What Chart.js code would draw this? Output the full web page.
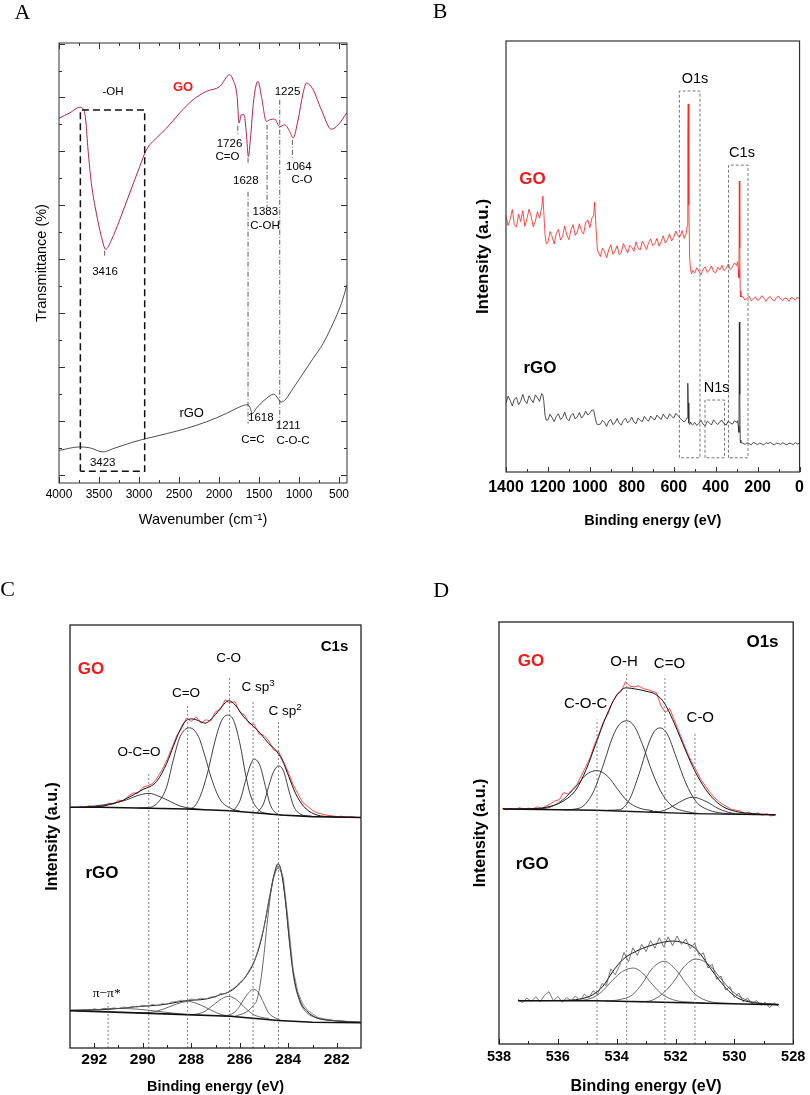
<!DOCTYPE html>
<html>
<head>
<meta charset="utf-8">
<script src="https://cdn.jsdelivr.net/npm/chart.js@4.4.1/dist/chart.umd.min.js"></script>
<style>
  body { margin: 0; background: #fff; }
  #fig { position: relative; width: 810px; height: 1095px; font-family: "Liberation Sans", Arial, sans-serif; color: #000; overflow: hidden; }
  canvas { position: absolute; }
  .t { position: absolute; transform: translate(-50%, -50%); white-space: nowrap; line-height: 1; }
  .L { font-family: "Liberation Serif", "Times New Roman", serif; font-size: 22px; }
  .a { font-size: 11.5px; }
  .b { font-weight: bold; font-size: 17px; }
  .red { color: #f01a1a; }
  .s { font-size: 13.5px; }
  .m { font-size: 15px; }
  .pk { font-size: 14.5px; }
  .pi { font-family: "Liberation Serif", "Times New Roman", serif; font-size: 13.5px; }
  sup { font-size: 0.72em; position: relative; top: -0.5em; vertical-align: baseline; }
</style>
</head>
<body>
<div id="fig">
  <canvas id="cA" width="405" height="545" style="left:0;top:0"></canvas>
  <canvas id="cB" width="405" height="545" style="left:405px;top:0"></canvas>
  <canvas id="cC" width="405" height="550" style="left:0;top:545px"></canvas>
  <canvas id="cD" width="405" height="550" style="left:405px;top:545px"></canvas>

  <!-- panel A -->
  <div class="t L" style="left:22.5px;top:12px">A</div>
  <div class="t a" style="left:113px;top:92px">-OH</div>
  <div class="t red" style="left:183px;top:86px;font-size:13px;font-weight:bold">GO</div>
  <div class="t a" style="left:287.5px;top:92px">1225</div>
  <div class="t a" style="left:229.5px;top:144.3px">1726</div>
  <div class="t a" style="left:227.5px;top:156.7px">C=O</div>
  <div class="t a" style="left:245.8px;top:181px">1628</div>
  <div class="t a" style="left:298.8px;top:166.7px">1064</div>
  <div class="t a" style="left:302px;top:180.3px">C-O</div>
  <div class="t a" style="left:265.3px;top:212.3px">1383</div>
  <div class="t a" style="left:265px;top:225.7px">C-OH</div>
  <div class="t a" style="left:105px;top:272px">3416</div>
  <div class="t" style="left:191.7px;top:411.7px;font-size:13px">rGO</div>
  <div class="t a" style="left:260.8px;top:418.3px">1618</div>
  <div class="t a" style="left:288.2px;top:425.7px">1211</div>
  <div class="t a" style="left:252.8px;top:440px">C=C</div>
  <div class="t a" style="left:293px;top:441px">C-O-C</div>
  <div class="t a" style="left:102.7px;top:463.3px">3423</div>

  <!-- panel B -->
  <div class="t L" style="left:440px;top:11px">B</div>
  <div class="t pk" style="left:695px;top:77.5px">O1s</div>
  <div class="t pk" style="left:742px;top:151.5px">C1s</div>
  <div class="t b red" style="left:532.5px;top:178px">GO</div>
  <div class="t b" style="left:540px;top:367px">rGO</div>
  <div class="t pk" style="left:716.7px;top:387px">N1s</div>

  <!-- panel C -->
  <div class="t L" style="left:7.5px;top:589px">C</div>
  <div class="t" style="left:334.5px;top:645px;font-weight:bold;font-size:15px">C1s</div>
  <div class="t b red" style="left:91px;top:667.5px">GO</div>
  <div class="t s" style="left:228.7px;top:657.7px">C-O</div>
  <div class="t s" style="left:186px;top:693px">C=O</div>
  <div class="t s" style="left:258px;top:687px">C sp<sup>3</sup></div>
  <div class="t s" style="left:285px;top:711px">C sp<sup>2</sup></div>
  <div class="t s" style="left:139px;top:751.5px">O-C=O</div>
  <div class="t b" style="left:102px;top:872px">rGO</div>
  <div class="t pi" style="left:106.7px;top:993px">π−π*</div>

  <!-- panel D -->
  <div class="t L" style="left:441.3px;top:590px">D</div>
  <div class="t b" style="left:762.5px;top:640.5px">O1s</div>
  <div class="t b red" style="left:531px;top:660px">GO</div>
  <div class="t m" style="left:624px;top:659.5px">O-H</div>
  <div class="t m" style="left:669.5px;top:662px">C=O</div>
  <div class="t m" style="left:585.7px;top:702px">C-O-C</div>
  <div class="t m" style="left:700.3px;top:716px">C-O</div>
  <div class="t b" style="left:532.2px;top:863px">rGO</div>
</div>

<script>
Chart.defaults.font.family = '"Liberation Sans", Arial, sans-serif'

// ---------- A: FTIR ----------
const aWaveGO = [4000, 3866, 3741, 3691, 3666, 3637, 3595, 3533, 3470, 3416, 3345, 3241, 3116, 2991, 2908, 2783, 2658, 2491, 2324, 2158, 1991, 1866, 1824, 1774, 1749, 1720, 1687, 1658, 1633, 1608, 1566, 1512, 1470, 1408, 1358, 1304, 1241, 1178, 1116, 1074, 1012, 949, 908, 824, 720, 595, 512, 400]
const aGO = [82.9, 84.1, 85.4, 84.8, 82.5, 75.7, 68.1, 61.3, 56.0, 53.1, 55.2, 59.8, 65.9, 71.9, 75.7, 78.4, 80.6, 84.1, 87.1, 89.0, 90.1, 92.8, 91.6, 87.9, 81.8, 83.7, 83.7, 79.5, 74.2, 78.0, 87.1, 91.3, 87.9, 82.2, 82.6, 82.7, 81.0, 81.4, 79.9, 78.4, 82.5, 88.6, 90.9, 89.4, 84.8, 80.4, 81.4, 84.2]
const aWaveRGO = [4000, 3741, 3616, 3450, 3324, 3074, 2908, 2658, 2408, 2158, 1908, 1741, 1645, 1616, 1583, 1533, 1408, 1316, 1262, 1229, 1178, 1074, 949, 824, 699, 574, 470, 400]
const aRGO = [7.4, 8.2, 8.0, 7.06, 7.8, 9.3, 10.1, 11.2, 12.4, 13.9, 15.8, 17.3, 17.8, 17.3, 15.8, 17.0, 19.2, 20.2, 19.2, 18.4, 18.8, 21.5, 24.9, 28.3, 31.7, 36.3, 40.8, 45.0]
const aBox = [3733, 2929, 2.66, 84.8]
const aMarks = [[3429, 52.8, 51.4], [1765, 81.2, 79.1], [1637, 73.9, 72.7], [1637, 66.2, 13.5], [1399, 81.4, 62.8], [1241, 87.1, 12.7], [1083, 78.0, 73.4]]

// ---------- B: XPS survey ----------
const bEnergy = [1400, 1390, 1380, 1370, 1360, 1350, 1340, 1330, 1320, 1310, 1300, 1290, 1280, 1270, 1260, 1250, 1240, 1230,
  1224, 1220, 1214, 1208,
  1200, 1190, 1180, 1170, 1160, 1150, 1140, 1130, 1120, 1110, 1100, 1090, 1080, 1070, 1060, 1050, 1040, 1030, 1020, 1010, 1000, 990,
  982, 977, 970, 964,
  950, 940, 930, 920, 910, 900, 890, 880, 870, 860, 850, 840, 830, 820, 810, 800, 790, 780, 770, 760, 750, 740, 730, 720, 710, 700, 690, 680, 670, 660, 650, 640, 630, 620, 610, 600, 590, 580,
  570, 560, 550, 540, 536, 533, 531, 528, 524, 520, 515, 510,
  500, 490, 480, 470, 460, 450, 440, 430, 420, 410, 400, 390, 380, 370, 360, 350, 340, 330, 320, 310, 300,
  296, 292, 289, 287, 285, 283, 280,
  270, 260, 250, 240, 230, 220, 210, 200, 190, 180, 170, 160, 150, 140, 130, 120, 110, 100, 90, 80, 70, 60, 50, 40, 30, 20, 10, 0]
const bGO = [59.5, 57.2, 58.6, 60.9, 57.4, 56.8, 59.9, 58.1, 60.6, 57.0, 58.8, 61.0, 59.3, 56.9, 58.2, 60.4, 58.9, 61.3,
  64.0, 60.5, 55.2, 53.0,
  53.2, 55.8, 54.6, 52.9, 55.4, 56.3, 53.8, 54.7, 57.1, 55.0, 53.9, 56.2, 57.4, 54.9, 55.7, 57.6, 56.0, 55.2, 57.9, 58.5, 56.7, 58.9,
  59.5, 62.6, 56.0, 51.5,
  50.0, 51.9, 51.1, 49.7, 51.6, 52.7, 50.5, 51.3, 52.5, 50.4, 51.0, 53.0, 51.9, 50.8, 52.6, 52.1, 51.2, 53.4, 52.0, 51.5, 53.5, 52.7, 51.6, 53.2, 54.1, 52.5, 53.0, 54.2, 52.4, 53.5, 54.8, 53.1, 53.9, 55.2, 53.6, 54.5, 55.9, 54.8,
  54.6, 56.0, 54.2, 55.5, 57.0, 78.0, 85.4, 62.0, 49.5, 47.2, 46.0, 46.8,
  46.2, 47.4, 46.6, 45.8, 47.1, 47.6, 46.3, 46.9, 47.8, 46.5, 46.2, 47.5, 46.9, 47.9, 46.7, 47.3, 48.2, 47.0, 47.6, 48.5, 47.9,
  48.8, 47.0, 45.0, 67.5, 52.0, 42.0, 40.6,
  40.7, 39.9, 40.3, 40.8, 39.7, 40.2, 40.6, 39.8, 40.1, 40.9, 40.3, 39.6, 40.4, 40.7, 40.0, 39.7, 40.5, 40.8, 40.1, 39.8, 40.4, 40.2, 39.6, 40.5, 40.3, 39.9, 40.6, 40.1]
const bRGO = [16.0, 17.6, 16.6, 15.3, 16.9, 17.3, 15.6, 16.4, 18.0, 16.5, 15.9, 17.7, 16.8, 16.1, 17.9, 17.2, 16.4, 18.2,
  17.8, 16.6, 13.2, 12.0,
  12.1, 13.4, 12.6, 11.7, 12.9, 13.5, 12.2, 12.6, 13.9, 12.4, 11.9, 13.1, 13.6, 12.3, 12.8, 13.8, 12.5, 13.1, 14.1, 13.2, 13.7, 14.4,
  14.3, 13.2, 11.6, 11.0,
  11.1, 12.0, 11.5, 10.6, 11.8, 12.2, 11.0, 11.4, 12.4, 11.3, 10.9, 12.0, 12.5, 11.4, 11.9, 12.7, 11.6, 11.2, 12.5, 12.0, 11.7, 12.9, 12.2, 11.8, 13.0, 12.4, 12.1, 13.2, 12.6, 12.2, 13.4, 12.7, 12.3, 13.5, 12.9, 12.5, 13.6, 13.1,
  12.5, 12.0, 11.6, 12.2, 12.6, 20.6, 16.0, 11.4, 11.0, 11.6, 11.1, 10.9,
  11.5, 10.8, 11.3, 12.0, 11.1, 10.7, 11.8, 11.4, 10.9, 12.1, 11.5, 11.0, 11.7, 12.0, 11.2, 10.9, 11.8, 11.4, 11.1, 11.9, 11.5,
  11.9, 10.6, 9.2, 34.8, 18.0, 7.4, 6.8,
  6.7, 6.4, 6.8, 6.6, 6.3, 6.9, 6.6, 6.4, 6.7, 6.5, 6.3, 6.8, 6.6, 6.9, 6.5, 6.3, 6.7, 6.6, 6.4, 6.8, 6.5, 6.3, 6.7, 6.6, 6.4, 6.8, 6.5, 6.7]
const bBoxes = [[573, 475, 3.3, 88.4], [339, 246, 3.3, 71.2], [451, 358, 3.3, 16.7]]

// ---------- C: C1s ----------
const cGoEnergy = [292.6, 292.4, 292.2, 292.0, 291.8, 291.6, 291.4, 291.2, 291.0, 290.8, 290.6, 290.4, 290.2, 290.0, 289.8, 289.6, 289.4, 289.2, 289.0, 288.8, 288.6, 288.4, 288.2, 288.0, 287.8, 287.6, 287.4, 287.2, 287.0, 286.8, 286.6, 286.4, 286.2, 286.0, 285.8, 285.6, 285.4, 285.2, 285.0, 284.8, 284.6, 284.4, 284.2, 284.0, 283.8, 283.6, 283.4, 283.2, 283.0, 282.8, 282.6, 282.4, 282.2, 282.0, 281.8, 281.6, 281.4, 281.2]
const cGoInt = [57.2, 56.8, 57.3, 56.9, 57.4, 57.1, 57.9, 57.7, 58.6, 58.4, 59.5, 60.3, 60.2, 61.6, 62.0, 62.5, 63.9, 65.8, 68.1, 70.9, 73.8, 75.5, 78.0, 77.2, 78.3, 76.8, 77.6, 77.3, 79.5, 80.0, 82.3, 81.6, 81.9, 79.4, 78.7, 76.6, 76.5, 74.2, 73.9, 72.6, 70.4, 70.1, 67.8, 65.2, 62.3, 60.1, 58.0, 57.1, 56.2, 55.6, 55.3, 55.0, 54.9, 54.7, 54.8, 54.6, 54.7, 54.5]
const cGoEnv = [[293, 56.9], [292, 57.0], [291.77, 57.1], [290.94, 58.26], [290.39, 59.84], [289.98, 61.17], [289.7, 61.8], [289.43, 63.0], [289.01, 67.3], [288.74, 71.3], [288.46, 75.2], [288.25, 77.2], [287.98, 77.8], [287.7, 77.4], [287.43, 76.8], [287.08, 78.3], [286.74, 80.7], [286.46, 82.1], [286.19, 81.1], [285.84, 78.3], [285.5, 76.4], [285.15, 74.4], [284.81, 72.0], [284.53, 70.5], [284.25, 68.1], [283.98, 64.2], [283.7, 60.2], [283.36, 57.1], [282.94, 55.35], [282.39, 54.7], [281, 54.5]]
const cGoBase = [[293, 56.9], [291.77, 56.9], [288.2, 56.5], [286.4, 56.1], [285.4, 55.6], [284.3, 55.1], [283, 54.7], [282.1, 54.6], [281, 54.5]]
const cGoOCO = [[292.5, 56.9], [291.36, 57.7], [290.67, 58.65], [290.25, 59.6], [289.74, 60.2], [289.29, 59.4], [288.87, 58.3], [288.46, 57.2], [288.05, 56.7], [287.5, 56.35]]
const cGoCdO = [[290.2, 56.75], [289.7, 56.9], [289.29, 58.6], [289.01, 61.8], [288.74, 68.1], [288.46, 73.6], [288.07, 75.7], [287.7, 73.6], [287.43, 68.9], [287.15, 63.4], [286.8, 58.65], [286.39, 56.7], [286.0, 56.0]]
const cGoCO = [[288.2, 56.5], [287.91, 56.9], [287.63, 59.5], [287.33, 65.0], [287.01, 72.8], [286.74, 77.5], [286.5, 78.7], [286.25, 77.4], [285.98, 71.6], [285.77, 65.0], [285.56, 59.8], [285.22, 56.3], [284.74, 55.3]]
const cGoSp3 = [[286.25, 56.1], [285.98, 58.65], [285.77, 63.0], [285.56, 66.9], [285.4, 68.3], [285.15, 66.5], [284.94, 61.8], [284.74, 57.5], [284.46, 55.4], [284.2, 55.05]]
const cGoSp2 = [[285.29, 55.55], [285.01, 57.9], [284.81, 61.8], [284.6, 65.4], [284.39, 66.7], [284.19, 65.4], [283.98, 61.0], [283.77, 57.1], [283.5, 55.3], [283.08, 54.75]]

const cRgoEnergy = [292.8, 292.6, 292.4, 292.2, 292.0, 291.8, 291.6, 291.4, 291.2, 291.0, 290.8, 290.6, 290.4, 290.2, 290.0, 289.8, 289.6, 289.4, 289.2, 289.0, 288.8, 288.6, 288.4, 288.2, 288.0, 287.8, 287.6, 287.4, 287.2, 287.0, 286.8, 286.6, 286.4, 286.2, 286.0, 285.8, 285.6, 285.4, 285.2, 285.0, 284.8, 284.6, 284.4, 284.2, 284.0, 283.8, 283.6, 283.4, 283.2, 283.0, 282.8, 282.6, 282.4, 282.2, 282.0, 281.8, 281.6, 281.4, 281.2]
const cRgoInt = [8.9, 8.6, 9.1, 8.8, 9.3, 9.0, 9.4, 9.2, 9.5, 9.3, 9.7, 9.5, 9.9, 9.7, 10.1, 9.9, 10.3, 10.0, 10.5, 10.3, 10.9, 11.0, 11.3, 11.1, 11.6, 11.4, 11.8, 11.5, 12.1, 12.0, 12.9, 12.8, 13.6, 14.3, 15.5, 16.5, 18.5, 20.4, 24.1, 28.5, 34.9, 40.3, 43.6, 40.2, 30.0, 18.6, 13.2, 10.4, 8.9, 8.1, 7.3, 7.0, 6.8, 6.6, 6.4, 6.5, 6.3, 6.3, 6.1]
const cRgoEnv = [[293, 8.95], [291.77, 9.05], [290.94, 9.37], [290.12, 9.84], [289.29, 10.16], [288.6, 10.8], [288.12, 11.26], [287.63, 11.4], [287.22, 11.8], [286.8, 12.6], [286.39, 13.4], [285.98, 15.35], [285.7, 17.3], [285.43, 20.1], [285.15, 24.8], [284.94, 30.3], [284.74, 36.6], [284.57, 41.3], [284.43, 43.54], [284.3, 42.1], [284.12, 35.0], [283.94, 24.8], [283.77, 16.9], [283.5, 11.0], [283.22, 8.66], [282.81, 7.09], [282.12, 6.46], [281, 6.1]]
const cRgoBase = [[293, 8.8], [291.77, 8.6], [288.2, 7.9], [286.4, 7.5], [284.4, 6.5], [283, 6.1], [281, 6.0]]
const cRgoPi = [[293, 8.8], [292.2, 9.0], [291.4, 9.25], [291.0, 9.35], [290.4, 9.25], [289.8, 8.95], [289.0, 8.4], [288.3, 7.95]]
const cRgoCdO = [[290.3, 8.3], [289.7, 8.4], [289.15, 9.2], [288.6, 10.4], [288.12, 11.0], [287.63, 10.2], [287.22, 9.05], [286.74, 7.87], [286.25, 7.5]]
const cRgoCO = [[287.91, 7.87], [287.49, 8.5], [287.08, 10.2], [286.74, 11.65], [286.46, 12.2], [286.19, 11.65], [285.84, 9.84], [285.49, 8.1], [285.15, 7.3], [284.8, 7.0]]
const cRgoSp3 = [[286.7, 7.6], [286.39, 7.9], [286.11, 9.05], [285.84, 11.4], [285.63, 13.1], [285.43, 13.9], [285.22, 13.0], [285.01, 10.6], [284.81, 8.3], [284.53, 7.1], [284.3, 6.55]]
const cRgoSp2 = [[286.2, 7.5], [285.7, 8.6], [285.45, 10.0], [285.29, 11.4], [285.15, 15.35], [285.01, 21.6], [284.87, 29.5], [284.74, 35.8], [284.6, 40.55], [284.42, 42.5], [284.25, 40.5], [284.11, 34.6], [283.94, 24.4], [283.77, 16.5], [283.5, 10.6], [283.22, 8.27], [282.81, 7.1], [282.12, 6.5], [281.5, 6.1]]
const cMarks = [[291.43, 10.7], [289.75, 65.3], [288.15, 80.9], [286.42, 87.8], [285.45, 82.3], [284.4, 77.6]]

// ---------- D: O1s ----------
const dGoEnergy = [537.90, 537.75, 537.60, 537.45, 537.30, 537.15, 537.00, 536.85, 536.70, 536.55, 536.40, 536.25, 536.10, 535.95, 535.80, 535.65, 535.50, 535.35, 535.20, 535.05, 534.90, 534.75, 534.60, 534.45, 534.30, 534.15, 534.00, 533.85, 533.70, 533.55, 533.40, 533.25, 533.10, 532.95, 532.80, 532.65, 532.50, 532.35, 532.20, 532.05, 531.90, 531.75, 531.60, 531.45, 531.30, 531.15, 531.00, 530.85, 530.70, 530.55, 530.40, 530.25, 530.10, 529.95, 529.80, 529.65, 529.50, 529.35, 529.20, 529.05, 528.90, 528.75, 528.60]
const dGoInt = [55.9, 55.5, 55.8, 55.6, 56.0, 55.6, 55.9, 55.7, 56.2, 55.8, 56.4, 56.9, 57.6, 57.9, 59.6, 59.2, 60.4, 61.5, 63.6, 65.7, 67.9, 71.0, 73.5, 76.4, 78.1, 80.9, 82.8, 83.5, 85.8, 84.8, 84.6, 84.9, 84.2, 84.0, 83.6, 83.3, 80.2, 78.6, 79.5, 76.9, 74.3, 71.6, 69.1, 66.8, 64.9, 62.8, 61.3, 59.8, 58.6, 57.6, 56.8, 56.2, 55.6, 55.4, 55.2, 54.6, 55.0, 54.3, 54.8, 54.2, 54.6, 54.0, 54.4]
const dGoEnv = [[537.86, 55.7], [536.96, 55.76], [536.4, 56.08], [535.83, 57.5], [535.38, 60.3], [535.04, 65.0], [534.7, 71.3], [534.36, 77.6], [534.02, 82.4], [533.68, 84.4], [533.34, 84.1], [533.0, 83.6], [532.66, 82.8], [532.38, 80.8], [532.1, 76.9], [531.76, 71.3], [531.42, 65.8], [531.08, 61.45], [530.74, 58.3], [530.4, 56.3], [529.95, 55.1], [529.39, 54.6], [528.6, 54.3]]
const dGoBase = [[537.86, 55.7], [534.7, 55.4], [531.42, 54.6], [528.6, 54.3]]
const dGoCOC = [[537.2, 55.65], [536.4, 55.9], [535.83, 57.9], [535.38, 61.05], [535.04, 63.8], [534.68, 64.8], [534.3, 63.4], [533.96, 60.3], [533.63, 57.5], [533.23, 55.9], [532.78, 55.3]]
const dGoOH = [[535.8, 55.5], [535.26, 55.9], [534.81, 59.5], [534.47, 65.8], [534.13, 72.9], [533.91, 75.7], [533.66, 76.6], [533.4, 75.3], [533.12, 70.9], [532.78, 64.2], [532.44, 59.1], [532.1, 56.3], [531.65, 55.1], [531.2, 54.6]]
const dGoCdO = [[534.3, 55.4], [533.91, 55.5], [533.57, 57.9], [533.23, 64.2], [532.95, 70.5], [532.72, 74.1], [532.52, 74.9], [532.27, 73.3], [531.99, 68.2], [531.65, 61.85], [531.31, 57.5], [530.86, 55.4], [530.4, 54.7], [530.0, 54.5]]
const dGoCO = [[532.9, 55.1], [532.55, 55.1], [532.21, 55.9], [531.87, 57.3], [531.42, 58.5], [530.97, 57.5], [530.52, 55.7], [530.07, 54.7], [529.62, 54.5], [529.2, 54.4]]

const dRgoEnergy = [537.35, 537.20, 537.05, 536.90, 536.75, 536.60, 536.45, 536.30, 536.15, 536.00, 535.85, 535.70, 535.55, 535.40, 535.25, 535.10, 534.95, 534.80, 534.65, 534.50, 534.35, 534.20, 534.05, 533.90, 533.75, 533.60, 533.45, 533.30, 533.15, 533.00, 532.85, 532.70, 532.55, 532.40, 532.25, 532.10, 531.95, 531.80, 531.65, 531.50, 531.35, 531.20, 531.05, 530.90, 530.75, 530.60, 530.45, 530.30, 530.15, 530.00, 529.85, 529.70, 529.55, 529.40, 529.25, 529.10, 528.95, 528.80, 528.65, 528.50]
const dRgoInt = [10.6, 9.8, 10.9, 10.1, 11.2, 10.0, 11.6, 12.4, 10.2, 11.3, 9.9, 11.0, 10.3, 11.4, 10.2, 11.8, 10.9, 12.6, 11.8, 14.3, 13.9, 17.8, 16.4, 18.6, 21.7, 19.5, 22.8, 21.0, 23.6, 21.9, 24.5, 22.7, 25.2, 23.0, 25.4, 23.3, 25.6, 23.6, 24.9, 22.6, 23.9, 21.0, 21.6, 18.0, 18.9, 15.3, 16.1, 12.8, 13.6, 11.0, 12.1, 10.0, 10.9, 9.5, 10.3, 9.2, 9.9, 8.6, 9.8, 8.9]
const dRgoEnv = [[537.35, 10.26], [535.83, 10.33], [535.26, 10.65], [534.81, 11.68], [534.47, 13.65], [534.13, 17.2], [533.8, 19.97], [533.46, 21.55], [533.0, 22.97], [532.55, 23.92], [532.1, 24.4], [531.76, 24.08], [531.42, 23.13], [531.14, 21.16], [530.86, 18.4], [530.52, 15.2], [530.18, 12.47], [529.84, 10.73], [529.39, 9.86], [528.48, 9.39]]
const dRgoBase = [[537.35, 10.26], [534.7, 10.26], [531.3, 9.7], [528.5, 9.3]]
const dRgoP1 = [[535.5, 10.3], [535.04, 10.5], [534.59, 11.9], [534.13, 15.2], [533.8, 17.2], [533.43, 18.0], [533.12, 16.8], [532.78, 14.05], [532.44, 11.7], [531.99, 10.3], [531.54, 9.95], [531.0, 9.7]]
const dRgoP2 = [[534.4, 10.2], [533.91, 10.5], [533.46, 11.68], [533.12, 14.45], [532.78, 18.0], [532.38, 19.6], [531.99, 17.6], [531.65, 14.45], [531.31, 11.68], [530.86, 10.1], [530.4, 9.7], [530.0, 9.6]]
const dRgoP3 = [[533.5, 10.1], [533.0, 10.1], [532.55, 11.3], [532.1, 14.45], [531.7, 18.4], [531.31, 20.13], [530.86, 18.8], [530.52, 16.0], [530.07, 12.5], [529.62, 10.5], [529.16, 9.7], [528.6, 9.4]]
const dMarks = [[534.67, 76.9], [533.66, 87.9], [532.36, 87.3], [531.34, 73.7]]

// helpers
const XY = (xs, ys) => xs.map((x, i) => ({x, y: ys[i]}))
const P = arr => arr.map(([x, y]) => ({x, y}))
const vline = (x, y0, y1) => [{x, y: y0}, {x, y: y1}]
const boxPts = ([x0, x1, y0, y1]) => [{x: x0, y: y0}, {x: x0, y: y1}, {x: x1, y: y1}, {x: x1, y: y0}, {x: x0, y: y0}]

function ds(data, color, width, extra) {
  return Object.assign({data, borderColor: color, borderWidth: width, pointRadius: 0, fill: false, tension: 0}, extra || {})
}
const smooth = {cubicInterpolationMode: 'monotone'}
const RED = '#ff2020'
const FIT = '#2a2a2a'

// frame + inward ticks drawn from the scales
const frameTicks = {
  id: 'frameTicks',
  afterDatasetsDraw(chart, args, o) {
    const {ctx, chartArea: a} = chart
    const sx = chart.scales.x, sy = chart.scales.y
    ctx.save()
    ctx.setLineDash([])
    ctx.strokeStyle = o.color
    ctx.lineWidth = o.width
    ctx.strokeRect(a.left, a.top, a.right - a.left, a.bottom - a.top)
    ctx.lineWidth = 1
    ctx.beginPath()
    let i = 0
    for (let v = o.xFrom; v <= o.xTo + 1e-6; v += o.xStep, i++) {
      const px = Math.round(sx.getPixelForValue(v)) + 0.5
      const len = i % 2 === 0 ? o.major : o.minor
      ctx.moveTo(px, a.bottom); ctx.lineTo(px, a.bottom - len)
      if (o.top) { ctx.moveTo(px, a.top); ctx.lineTo(px, a.top + len) }
    }
    if (o.yStep) {
      i = 0
      for (let v = o.yFrom; v <= o.yTo + 1e-6; v += o.yStep, i++) {
        const py = Math.round(sy.getPixelForValue(v)) + 0.5
        const len = i % 2 === 0 ? o.major : o.minor
        ctx.moveTo(a.left, py); ctx.lineTo(a.left + len, py)
        ctx.moveTo(a.right, py); ctx.lineTo(a.right - len, py)
      }
    }
    ctx.stroke()
    ctx.restore()
  }
}

function makeChart(id, c) {
  const isMajor = v => Math.abs(v / c.xMajor - Math.round(v / c.xMajor)) < 1e-6
  return new Chart(document.getElementById(id), {
    type: 'line',
    data: {datasets: c.datasets},
    options: {
      responsive: false,
      animation: false,
      events: [],
      layout: {padding: c.pad},
      plugins: {legend: {display: false}, tooltip: {enabled: false}, frameTicks: c.frame},
      scales: {
        x: {
          type: 'linear', min: c.xMin, max: c.xMax, reverse: true,
          grid: {display: false, drawTicks: false}, border: {display: false},
          ticks: {
            stepSize: c.xStep, maxTicksLimit: 1000, autoSkip: false, maxRotation: 0,
            color: '#000', padding: c.tickPad, font: c.tickFont,
            callback: v => (isMajor(v) ? String(Math.round(v)) : '')
          },
          title: {display: true, text: c.xTitle, color: '#000', font: c.xTitleFont, padding: {top: 0, bottom: c.xTitlePad}},
          afterFit: s => { s.height = c.xH }
        },
        y: {
          type: 'linear', min: 0, max: 100,
          grid: {display: false, drawTicks: false}, border: {display: false},
          ticks: {display: false},
          title: {display: true, text: c.yTitle, color: '#000', font: c.yTitleFont, padding: {top: c.yTitlePad, bottom: 0}},
          afterFit: s => { s.width = c.yW }
        }
      }
    },
    plugins: [frameTicks]
  })
}

// A
makeChart('cA', {
  datasets: [
    ds(boxPts(aBox), '#111', 1.5, {borderDash: [7, 4]}),
    ...aMarks.map(m => ds(vline(...m), '#333', 0.8, {borderDash: [5, 2, 1, 2]})),
    ds(XY(aWaveRGO, aRGO), '#222', 0.8, smooth),
    ds(XY(aWaveGO, aGO), '#b0244e', 1, smooth)
  ],
  pad: {left: 0, top: 43, right: 58, bottom: 0},
  xMin: 400, xMax: 4000, xStep: 100, xMajor: 500, xH: 62, yW: 59,
  tickPad: 4, tickFont: {size: 12},
  xTitle: 'Wavenumber (cm⁻¹)', xTitleFont: {size: 14.5, lineHeight: 1}, xTitlePad: 17.75,
  yTitle: 'Transmittance (%)', yTitleFont: {size: 14.5, lineHeight: 1}, yTitlePad: 34.75,
  frame: {color: '#333', width: 1, xFrom: 500, xTo: 4000, xStep: 250, major: 6, minor: 3, top: true, yFrom: 1.8, yTo: 100, yStep: 6.13}
})

// B
makeChart('cB', {
  datasets: [
    ...bBoxes.map(b => ds(boxPts(b), '#555', 0.8, {borderDash: [3, 2]})),
    ds(XY(bEnergy, bRGO), '#222', 0.8),
    ds(XY(bEnergy, bGO), RED, 0.8)
  ],
  pad: {left: 0, top: 41, right: 4, bottom: 0},
  xMin: 0, xMax: 1400, xStep: 100, xMajor: 200, xH: 73, yW: 101,
  tickPad: 6, tickFont: {size: 16, weight: 'bold'},
  xTitle: 'Binding energy (eV)', xTitleFont: {size: 14.5, weight: 'bold', lineHeight: 1}, xTitlePad: 16.75,
  yTitle: 'Intensity (a.u.)', yTitleFont: {size: 17, weight: 'bold', lineHeight: 1}, yTitlePad: 69.5,
  frame: {color: '#333', width: 1.2, xFrom: 0, xTo: 1400, xStep: 100, major: 5, minor: 3}
})

// C
makeChart('cC', {
  datasets: [
    ...cMarks.map(m => ds(vline(m[0], 0, m[1]), '#666', 0.8, {borderDash: [2, 2]})),
    ds(P(cGoBase), '#111', 1.6),
    ...[cGoOCO, cGoCdO, cGoCO, cGoSp3, cGoSp2].map(p => ds(P(p), FIT, 0.9, smooth)),
    ds(P(cGoEnv), '#111', 1, smooth),
    ds(XY(cGoEnergy, cGoInt), RED, 0.8),
    ds(P(cRgoBase), '#111', 1.6),
    ...[cRgoPi, cRgoCdO, cRgoCO, cRgoSp3, cRgoSp2].map(p => ds(P(p), '#444', 0.8, smooth)),
    ds(XY(cRgoEnergy, cRgoInt), '#777', 0.8),
    ds(P(cRgoEnv), '#111', 1, smooth)
  ],
  pad: {left: 0, top: 80, right: 44, bottom: 0},
  xMin: 281, xMax: 293, xStep: 1, xMajor: 2, xH: 47, yW: 70,
  tickPad: 2.4, tickFont: {size: 15.5, weight: 'bold'},
  xTitle: 'Binding energy (eV)', xTitleFont: {size: 14.5, weight: 'bold', lineHeight: 1}, xTitlePad: 0.45,
  yTitle: 'Intensity (a.u.)', yTitleFont: {size: 16, weight: 'bold', lineHeight: 1}, yTitlePad: 45,
  frame: {color: '#222', width: 1.3, xFrom: 282, xTo: 292, xStep: 1, major: 5, minor: 3}
})

// D
makeChart('cD', {
  datasets: [
    ...dMarks.map(m => ds(vline(m[0], 0, m[1]), '#666', 0.8, {borderDash: [2, 2]})),
    ds(P(dGoBase), '#111', 1.4),
    ...[dGoCOC, dGoOH, dGoCdO, dGoCO].map(p => ds(P(p), FIT, 0.9, smooth)),
    ds(P(dGoEnv), '#111', 1, smooth),
    ds(XY(dGoEnergy, dGoInt), RED, 0.8),
    ds(P(dRgoBase), '#111', 1.4),
    ...[dRgoP1, dRgoP2, dRgoP3].map(p => ds(P(p), '#444', 0.8, smooth)),
    ds(XY(dRgoEnergy, dRgoInt), '#555', 0.8),
    ds(P(dRgoEnv), '#111', 1, smooth)
  ],
  pad: {left: 0, top: 77, right: 16, bottom: 0},
  xMin: 528, xMax: 538, xStep: 1, xMajor: 2, xH: 51, yW: 94,
  tickPad: 4.7, tickFont: {size: 14.5, weight: 'bold'},
  xTitle: 'Binding energy (eV)', xTitleFont: {size: 16, weight: 'bold', lineHeight: 1}, xTitlePad: 0.3,
  yTitle: 'Intensity (a.u.)', yTitleFont: {size: 16, weight: 'bold', lineHeight: 1}, yTitlePad: 68,
  frame: {color: '#222', width: 1.3, xFrom: 528, xTo: 538, xStep: 1, major: 5, minor: 3}
})
</script>
</body>
</html>
